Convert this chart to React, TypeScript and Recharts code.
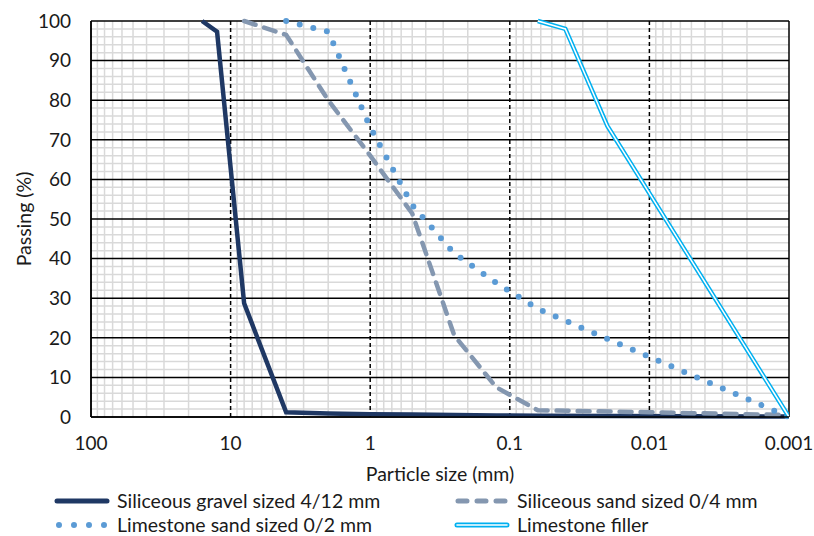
import React from "react";
import {
  LineChart,
  Line,
  XAxis,
  YAxis,
  ReferenceLine,
  Legend,
  Label,
} from "recharts";

// sieve size (mm) and cumulative passing (%) for each material
const gravelSize = [16, 12.5, 8, 4, 2, 1, 0.5, 0.25, 0.125, 0.063, 0.001];
const gravelPassing = [100, 97.3, 28.7, 1.2, 0.9, 0.7, 0.6, 0.5, 0.4, 0.3, 0.1];

const sand04Size = [8, 4, 2, 1, 0.5, 0.25, 0.125, 0.063, 0.01, 0.001];
const sand04Passing = [100, 96.5, 80, 66, 51.4, 20.6, 7.5, 1.7, 1.2, 0.5];

const limeSandSize = [4, 2, 1, 0.5, 0.25, 0.125, 0.063, 0.001];
const limeSandPassing = [100, 97.3, 73.2, 53.5, 41.3, 33.9, 27.3, 0];

const fillerSize = [0.063, 0.04, 0.02, 0.001];
const fillerPassing = [100, 98, 73.5, 0];

const sizeTicks = [100, 10, 1, 0.1, 0.01, 0.001];
const passingTicks = [0, 10, 20, 30, 40, 50, 60, 70, 80, 90, 100];

const seriesNames = [
  "Siliceous gravel sized 4/12 mm",
  "Siliceous sand sized 0/4 mm",
  "Limestone sand sized 0/2 mm",
  "Limestone filler",
];

const toPoints = (sizes: number[], passing: number[]) =>
  sizes.map((size, i) => ({ size, passing: passing[i] }));

// log-paper grid: 2..9 in every decade, plus every 2 % on the passing axis
const minorSizes: number[] = [];
[10, 1, 0.1, 0.01, 0.001].forEach((base) => {
  for (let k = 2; k <= 9; k++) minorSizes.push(+(k * base).toPrecision(3));
});
const majorSizes = [10, 1, 0.1, 0.01];
const minorPassing: number[] = [];
for (let p = 2; p < 100; p += 2) if (p % 10 !== 0) minorPassing.push(p);

const FONT = "Lato, 'Open Sans', sans-serif";
const TEXT = "#1a1a1a";
const FONT_SIZE = 19.5;

const NAVY = "#1F3864";
const GREY_BLUE = "#8497B0";
const BLUE = "#5B9BD5";
const CYAN = "#00B0F0";

const Swatch = ({ idx }: { idx: number }) => (
  <svg width={60} height={12} style={{ position: "absolute", left: -3, top: -6 }}>
    {idx === 0 && (
      <line x1={5} x2={55} y1={6} y2={6} stroke={NAVY} strokeWidth={5} strokeLinecap="round" />
    )}
    {idx === 1 && (
      <line x1={6} x2={55} y1={6} y2={6} stroke={GREY_BLUE} strokeWidth={5} strokeLinecap="round" strokeDasharray="9 10" />
    )}
    {idx === 2 && (
      <line x1={7} x2={55} y1={6} y2={6} stroke={BLUE} strokeWidth={6} strokeLinecap="round" strokeDasharray="0 15" />
    )}
    {idx === 3 && (
      <g>
        <line x1={5} x2={55} y1={6} y2={6} stroke={CYAN} strokeWidth={5} strokeLinecap="round" />
        <line x1={5} x2={55} y1={6} y2={6} stroke="#fff" strokeWidth={1.6} strokeLinecap="round" />
      </g>
    )}
  </svg>
);

const renderLegend = () => {
  const spots = [
    { left: 55, top: 27 },
    { left: 455, top: 27 },
    { left: 55, top: 51 },
    { left: 455, top: 51 },
  ];
  return (
    <div style={{ position: "relative", width: 814, height: 62 }}>
      {seriesNames.map((name, i) => (
        <div key={name} style={{ position: "absolute", left: spots[i].left, top: spots[i].top }}>
          <Swatch idx={i} />
          <span
            style={{
              position: "absolute",
              left: 62,
              top: -12,
              whiteSpace: "nowrap",
              fontFamily: FONT,
              fontSize: FONT_SIZE,
              lineHeight: "24px",
              color: TEXT,
            }}
          >
            {name}
          </span>
        </div>
      ))}
    </div>
  );
};

const App: React.FC = () => {
  const tickStyle = { fontFamily: FONT, fontSize: 19, fill: TEXT };
  return (
    <div style={{ position: "absolute", left: 0, top: 0, background: "#fff" }}>
      <LineChart width={814} height={536} margin={{ top: 21, right: 25, left: 0, bottom: 0 }}>
        <XAxis
          dataKey="size"
          type="number"
          scale="log"
          domain={[0.001, 100]}
          ticks={sizeTicks}
          reversed
          allowDataOverflow
          height={57}
          tickSize={0}
          tickMargin={20}
          tick={tickStyle}
          tickFormatter={(v: number) => String(v)}
          axisLine={{ stroke: "#000", strokeWidth: 1.5 }}
          tickLine={false}
        >
          <Label
            content={({ viewBox }: any) => (
              <text
                x={viewBox.x + viewBox.width / 2}
                y={viewBox.y + viewBox.height - 1}
                textAnchor="middle"
                dominantBaseline="central"
                fontFamily={FONT}
                fontSize={FONT_SIZE}
                fill={TEXT}
              >
                Particle size (mm)
              </text>
            )}
          />
        </XAxis>
        <YAxis
          type="number"
          domain={[0, 100]}
          ticks={passingTicks}
          width={91}
          tickSize={0}
          tickMargin={20}
          tick={tickStyle}
          axisLine={{ stroke: "#000", strokeWidth: 1.5 }}
          tickLine={false}
        >
          <Label
            content={({ viewBox }: any) => {
              const cy = viewBox.y + viewBox.height / 2;
              return (
                <text
                  x={23}
                  y={cy}
                  transform={`rotate(-90, 23, ${cy})`}
                  textAnchor="middle"
                  dominantBaseline="central"
                  fontFamily={FONT}
                  fontSize={FONT_SIZE}
                  fill={TEXT}
                >
                  Passing (%)
                </text>
              );
            }}
          />
        </YAxis>

        {minorSizes.map((s) => (
          <ReferenceLine key={`vx${s}`} x={s} stroke="#d9d9d9" strokeWidth={1.5} />
        ))}
        {minorPassing.map((p) => (
          <ReferenceLine key={`hy${p}`} y={p} stroke="#d9d9d9" strokeWidth={1.5} />
        ))}
        {passingTicks.map((p) => (
          <ReferenceLine key={`my${p}`} y={p} stroke="#000" strokeWidth={1.5} />
        ))}
        {majorSizes.map((s) => (
          <ReferenceLine key={`mx${s}`} x={s} stroke="#000" strokeWidth={1.5} strokeDasharray="4 3" />
        ))}
        <ReferenceLine x={0.001} stroke="#000" strokeWidth={1.5} />
        <ReferenceLine x={100} stroke="#000" strokeWidth={1.5} />

        <Line
          data={toPoints(gravelSize, gravelPassing)}
          dataKey="passing"
          name={seriesNames[0]}
          type="linear"
          stroke={NAVY}
          strokeWidth={4.5}
          dot={false}
          activeDot={false}
          isAnimationActive={false}
        />
        <Line
          data={toPoints(sand04Size, sand04Passing)}
          dataKey="passing"
          name={seriesNames[1]}
          type="linear"
          stroke={GREY_BLUE}
          strokeWidth={4.5}
          strokeDasharray="12 9"
          strokeLinecap="round"
          dot={false}
          activeDot={false}
          isAnimationActive={false}
        />
        <Line
          data={toPoints(limeSandSize, limeSandPassing)}
          dataKey="passing"
          name={seriesNames[2]}
          type="linear"
          stroke={BLUE}
          strokeWidth={6}
          strokeDasharray="0 14"
          strokeLinecap="round"
          dot={false}
          activeDot={false}
          isAnimationActive={false}
        />
        <Line
          data={toPoints(fillerSize, fillerPassing)}
          dataKey="passing"
          name={seriesNames[3]}
          type="linear"
          stroke={CYAN}
          strokeWidth={4.5}
          dot={false}
          activeDot={false}
          isAnimationActive={false}
        />
        <Line
          data={toPoints(fillerSize, fillerPassing)}
          dataKey="passing"
          legendType="none"
          type="linear"
          stroke="#fff"
          strokeWidth={1.5}
          dot={false}
          activeDot={false}
          isAnimationActive={false}
        />

        <Legend
          verticalAlign="bottom"
          height={62}
          content={renderLegend}
          wrapperStyle={{ left: 0, width: 814, bottom: 0 }}
        />
      </LineChart>
    </div>
  );
};

export default App;
